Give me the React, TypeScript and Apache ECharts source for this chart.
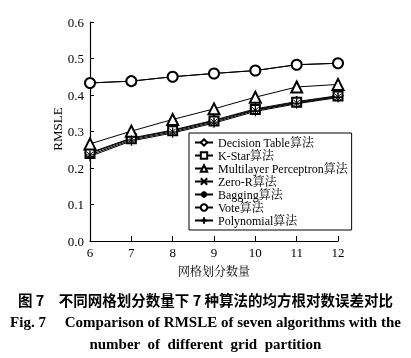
import React, { useEffect, useRef } from "react";
import * as echarts from "echarts";

const categories = ["6", "7", "8", "9", "10", "11", "12"];
const yTicks = [0, 0.1, 0.2, 0.3, 0.4, 0.5, 0.6];

const decisionTable = [0.242, 0.282, 0.304, 0.331, 0.362, 0.382, 0.398];
const kStar = [0.240, 0.280, 0.302, 0.329, 0.360, 0.380, 0.397];
const multilayer = [0.266, 0.301, 0.333, 0.362, 0.394, 0.422, 0.429];
const zeroR = [0.433, 0.438, 0.450, 0.459, 0.467, 0.483, 0.487];
const bagging = [0.236, 0.277, 0.299, 0.326, 0.358, 0.378, 0.395];
const vote = [0.433, 0.438, 0.450, 0.459, 0.467, 0.483, 0.487];
const polynomial = [0.232, 0.274, 0.296, 0.323, 0.355, 0.376, 0.393];

const seriesNames = [
  "Decision Table算法",
  "K-Star算法",
  "Multilayer Perceptron算法",
  "Zero-R算法",
  "Bagging算法",
  "Vote算法",
  "Polynomial算法",
];

const SERIF = "Liberation Serif, Noto Serif CJK SC, Noto Sans CJK SC, serif";

const crossPath = "path://M0,0L10,10M10,0L0,10";
const plusPath = "path://M5,0L5,10M0,5L10,5";
const starPath = "path://M5,0L5,10M0,5L10,5M1.5,1.5L8.5,8.5M8.5,1.5L1.5,8.5";

export default function App() {
  const ref = useRef<HTMLDivElement>(null);
  useEffect(() => {
    if (!ref.current) return;
    const chart = echarts.init(ref.current, undefined, { renderer: "svg" });
    const mk = (name: string, data: number[], symbol: string, size: number) => ({
      name,
      type: "line",
      data,
      symbol,
      symbolSize: size,
      showAllSymbol: true,
      lineStyle: { color: "#000", width: 1 },
      itemStyle: { color: "#000", borderColor: "#000", borderWidth: 1 },
      emphasis: { disabled: true },
      z: 3,
    });
    chart.setOption({
      animation: false,
      grid: { left: 90, right: 73, top: 22, bottom: 117 },
      xAxis: {
        type: "category",
        data: categories,
        boundaryGap: false,
        name: "网格划分数量",
        nameLocation: "middle",
        nameGap: 25,
        nameTextStyle: { fontSize: 12, color: "#000", fontFamily: SERIF },
        axisLine: { lineStyle: { color: "#000", width: 1.2 } },
        axisTick: { inside: true, length: 5, lineStyle: { color: "#000" }, alignWithLabel: true },
        axisLabel: { color: "#000", fontSize: 13, margin: 5, fontFamily: SERIF },
        splitLine: { show: false },
      },
      yAxis: {
        type: "value",
        min: 0,
        max: 0.6,
        interval: 0.1,
        axisLine: { show: true, lineStyle: { color: "#000", width: 1.2 } },
        axisTick: { show: true, inside: true, length: 4, lineStyle: { color: "#000" } },
        axisLabel: {
          color: "#000",
          fontSize: 13,
          margin: 6,
          showMaxLabel: true,
          fontFamily: SERIF,
          formatter: (v: number) => {
            const t = yTicks.find((x) => Math.abs(x - v) < 1e-6);
            return (t ?? v).toFixed(1);
          },
        },
        splitLine: { show: false },
      },
      legend: {
        orient: "vertical",
        left: 189,
        top: 133,
        padding: [3, 4, 3, 5],
        borderColor: "#000",
        borderWidth: 1,
        backgroundColor: "#fff",
        itemWidth: 18,
        itemHeight: 8,
        itemGap: 0,
        textStyle: { fontSize: 12, color: "#000", fontFamily: SERIF, lineHeight: 13 },
        data: seriesNames,
        selectedMode: false,
      },
      series: [
        mk(seriesNames[0], decisionTable, "emptyDiamond", 9),
        mk(seriesNames[1], kStar, "emptyRect", 9),
        mk(seriesNames[2], multilayer, "emptyTriangle", 11),
        mk(seriesNames[3], zeroR, crossPath, 7),
        mk(seriesNames[4], bagging, starPath, 9),
        mk(seriesNames[5], vote, "emptyCircle", 10),
        mk(seriesNames[6], polynomial, plusPath, 10),
      ],
      graphic: [
        {
          type: "text",
          x: 57,
          y: 129,
          rotation: Math.PI / 2,
          style: {
            text: "RMSLE",
            font: "13px Liberation Serif, serif",
            fill: "#000",
            align: "center",
            verticalAlign: "middle",
          },
        },
        {
          type: "text",
          left: "center",
          top: 292,
          style: {
            text: "图 7　不同网格划分数量下 7 种算法的均方根对数误差对比",
            font: "bold 14.5px Noto Sans CJK SC, sans-serif",
            fill: "#000",
          },
        },
        {
          type: "text",
          left: "center",
          top: 314,
          style: {
            text: "Fig. 7　 Comparison of RMSLE of seven algorithms with the",
            font: "bold 15px Liberation Serif, serif",
            fill: "#000",
          },
        },
        {
          type: "text",
          left: "center",
          top: 336,
          style: {
            text: "number  of  different  grid  partition",
            font: "bold 15px Liberation Serif, serif",
            fill: "#000",
          },
        },
      ],
    });
    return () => chart.dispose();
  }, []);
  return <div ref={ref} style={{ position: "fixed", left: 0, top: 0, width: 411, height: 358 }} />;
}
